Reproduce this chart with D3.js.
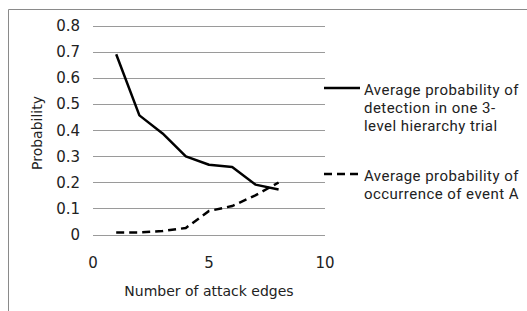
<!DOCTYPE html>
<html>
<head>
<meta charset="utf-8">
<script src="https://cdn.jsdelivr.net/npm/d3@7"></script>
<style>
  body { margin: 0; background: #fff; }
  svg { display: block; }
  .tick-label { font-family: "DejaVu Sans", Verdana, sans-serif; font-size: 15px; fill: #222; }
  .axis-title { font-family: "DejaVu Sans", Verdana, sans-serif; font-size: 14px; fill: #222; }
  .legend-text { font-family: Roboto, "Open Sans", sans-serif; font-size: 15px; letter-spacing: 0.45px; fill: #222; }
</style>
</head>
<body>
<div id="chart"></div>
<script>
// x values: number of attack edges
const edges = [1, 2, 3, 4, 5, 6, 7, 8];
// solid series
const detection = [0.69, 0.456, 0.387, 0.299, 0.267, 0.258, 0.191, 0.172];
// dashed series
const occurrence = [0.008, 0.008, 0.013, 0.025, 0.09, 0.109, 0.15, 0.199];

const yTicks = [0, 0.1, 0.2, 0.3, 0.4, 0.5, 0.6, 0.7, 0.8];
const xTicks = [0, 5, 10];

const legendItems = [
    { lines: ["Average probability of", "detection in one 3-", "level hierarchy trial"], dash: null },
    { lines: ["Average probability of", "occurrence of event A"], dash: "8,5" }
];

const width = 527, height = 311;

const svg = d3.select("#chart").append("svg")
    .attr("width", width)
    .attr("height", height);

// outer chart frame (runs off the right and bottom)
svg.append("path")
    .attr("d", "M8.5,320 V9.5 H540")
    .attr("fill", "none")
    .attr("stroke", "#8a8a8a")
    .attr("stroke-width", 1);

const x = d3.scaleLinear().domain([0, 10]).range([93, 325]);
const y = d3.scaleLinear().domain([0, 0.8]).range([234.5, 25.5]);

// horizontal gridlines
svg.append("g").selectAll("line")
    .data(yTicks)
    .enter().append("line")
    .attr("x1", x(0))
    .attr("x2", x(10))
    .attr("y1", d => Math.round(y(d)) + 0.5)
    .attr("y2", d => Math.round(y(d)) + 0.5)
    .attr("stroke", "#9a9a9a")
    .attr("stroke-width", 1);

// y tick labels
svg.append("g").selectAll("text")
    .data(yTicks)
    .enter().append("text")
    .attr("class", "tick-label")
    .attr("x", 80)
    .attr("y", d => y(d) + 5.5)
    .attr("text-anchor", "end")
    .text(d => d === 0 ? "0" : d3.format(".1f")(d));

// x tick labels
svg.append("g").selectAll("text")
    .data(xTicks)
    .enter().append("text")
    .attr("class", "tick-label")
    .attr("x", d => x(d))
    .attr("y", 268)
    .attr("text-anchor", "middle")
    .text(d => d);

// axis titles
svg.append("text")
    .attr("class", "axis-title")
    .attr("x", 209)
    .attr("y", 296)
    .attr("text-anchor", "middle")
    .text("Number of attack edges");

svg.append("text")
    .attr("class", "axis-title")
    .attr("transform", "translate(42,133) rotate(-90)")
    .attr("text-anchor", "middle")
    .text("Probability");

const line = d3.line()
    .x(d => x(d[0]))
    .y(d => y(d[1]));

svg.append("path")
    .datum(edges.map((e, i) => [e, detection[i]]))
    .attr("d", line)
    .attr("fill", "none")
    .attr("stroke", "#000")
    .attr("stroke-width", 2.5)
    .attr("stroke-linejoin", "round");

svg.append("path")
    .datum(edges.map((e, i) => [e, occurrence[i]]))
    .attr("d", line)
    .attr("fill", "none")
    .attr("stroke", "#000")
    .attr("stroke-width", 2.5)
    .attr("stroke-dasharray", "8,5");

// legend
const legendY = [88, 174];
const legend = svg.append("g");
legendItems.forEach((item, i) => {
    const ly = legendY[i];
    legend.append("line")
        .attr("x1", 324)
        .attr("x2", 360)
        .attr("y1", ly)
        .attr("y2", ly)
        .attr("stroke", "#000")
        .attr("stroke-width", 2.5)
        .attr("stroke-dasharray", item.dash);
    legend.append("g").selectAll("text")
        .data(item.lines)
        .enter().append("text")
        .attr("class", "legend-text")
        .attr("x", 364)
        .attr("y", (d, j) => ly + 7 + j * 18)
        .text(d => d);
});
</script>
</body>
</html>
